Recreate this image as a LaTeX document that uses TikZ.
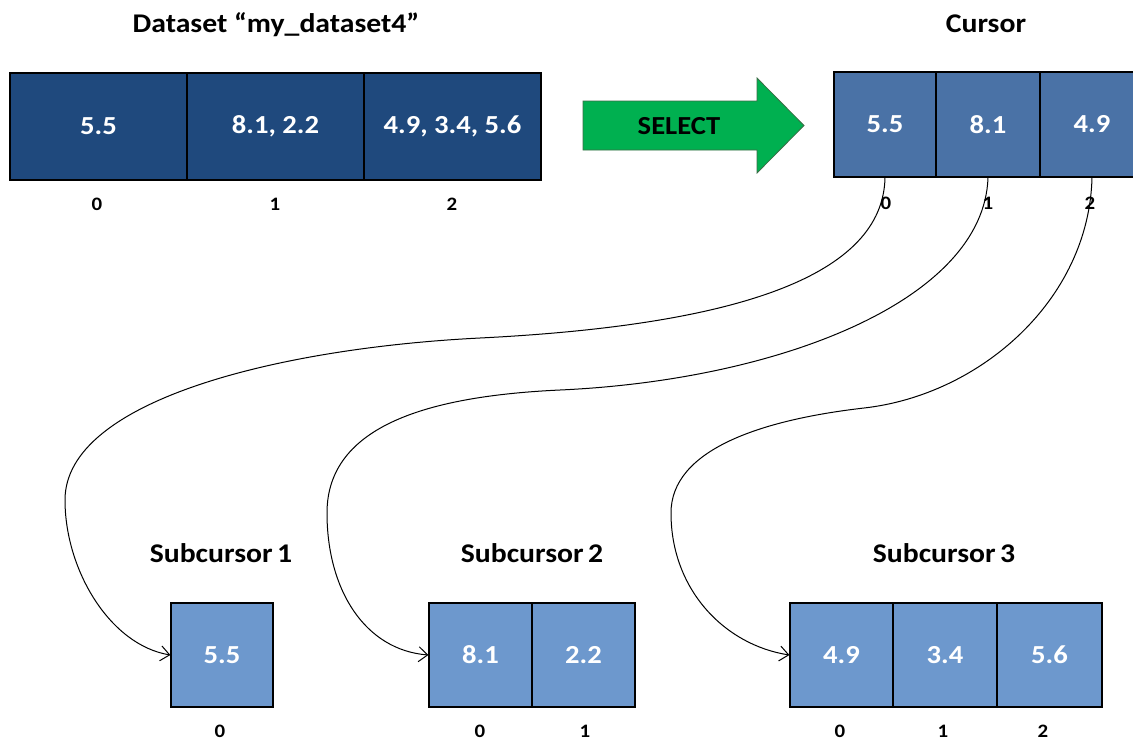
\documentclass[tikz,border=0pt]{standalone}
\usepackage{fontspec}
\setmainfont{Carlito}[FakeStretch=1.1]
\usetikzlibrary{arrows.meta}
\definecolor{dsblue}{HTML}{1F497D}
\definecolor{curblue}{HTML}{4A72A6}
\definecolor{subblue}{HTML}{6D98CD}
\definecolor{selgreen}{HTML}{00B050}
\definecolor{selborder}{HTML}{3C6E47}
\begin{document}
\begin{tikzpicture}[x=1pt,y=-1pt,
  cellbox/.style={draw=black, line width=1.2pt, inner sep=0pt, text=white,
    font=\fontsize{26}{30}\selectfont\bfseries},
  dscell/.style={cellbox, fill=dsblue, minimum width=177pt, minimum height=107pt},
  curcell/.style={cellbox, fill=curblue, minimum width=104pt, minimum height=105pt},
  subcell/.style={cellbox, fill=subblue, minimum width=103pt, minimum height=104pt},
  titletext/.style={anchor=base, inner sep=0pt, font=\fontsize{27}{31}\selectfont\bfseries},
  idxtext/.style={anchor=base, inner sep=0pt, font=\fontsize{19}{22}\selectfont\bfseries},
  conn/.style={draw=black, line width=1pt, -{Straight Barb[length=9pt,width=15pt,line width=1pt]}}
]
\useasboundingbox (0,0) rectangle (1133,742);
\clip (0,0) rectangle (1133,742);
\fill[white] (0,0) rectangle (1133,742);

% Dataset
\node[titletext] (dtitle) at (276,32) {Dataset “my\_dataset4”};
\node[dscell] (d0) at (98.5,126.5) {5.5};
\node[dscell] (d1) at (275.5,126.5) {8.1, 2.2};
\node[dscell] (d2) at (452.5,126.5) {4.9, 3.4, 5.6};
\node[idxtext] (di0) at (97,210) {0};
\node[idxtext] (di1) at (275,210) {1};
\node[idxtext] (di2) at (452,210) {2};

% SELECT arrow
\filldraw[fill=selgreen, draw=selborder, line width=0.8pt]
  (583,101) -- (757,101) -- (757,78) -- (804,125.5) -- (757,173) -- (757,150) -- (583,150) -- cycle;
\node[anchor=base, inner sep=0pt, font=\fontsize{26}{30}\selectfont\bfseries] (sel) at (679,134) {SELECT};

% Cursor
\node[titletext] (ctitle) at (986,32) {Cursor};
\node[curcell, minimum width=102pt] (c0) at (885,124.5) {5.5};
\node[curcell] (c1) at (988,124.5) {8.1};
\node[curcell] (c2) at (1092,124.5) {4.9};

% Subcursors
\node[titletext] (s1title) at (221,562) {Subcursor\,1};
\node[subcell, minimum width=102pt] (s1) at (222,655) {5.5};
\node[idxtext] (s1i0) at (220,737) {0};

\node[titletext] (s2title) at (532,562) {Subcursor\,2};
\node[subcell] (s2a) at (480.5,655) {8.1};
\node[subcell] (s2b) at (583.5,655) {2.2};
\node[idxtext] (s2i0) at (480,737) {0};
\node[idxtext] (s2i1) at (585,737) {1};

\node[titletext] (s3title) at (944,562) {Subcursor\,3};
\node[subcell] (s3a) at (841.5,655) {4.9};
\node[subcell, minimum width=104pt] (s3b) at (945,655) {3.4};
\node[subcell, minimum width=105pt] (s3c) at (1049.5,655) {5.6};
\node[idxtext] (s3i0) at (840,737) {0};
\node[idxtext] (s3i1) at (943,737) {1};
\node[idxtext] (s3i2) at (1043,737) {2};

% Connectors
\draw[conn] (c0.south) .. controls (883,275) and (740,325) .. (480,338)
  .. controls (280,348) and (65,400) .. (65,500)
  .. controls (65,570) and (110,645) .. (s1.west);
\draw[conn] (c1.south) .. controls (984,300) and (780,380) .. (560,390)
  .. controls (430,396) and (327,425) .. (327,513)
  .. controls (327,590) and (365,650) .. (s2a.west);
\draw[conn] (c2.south) .. controls (1089,300) and (980,395) .. (864,408)
  .. controls (760,420) and (671,450) .. (671,513)
  .. controls (671,590) and (725,645) .. (s3a.west);

% Cursor index labels (drawn over connectors)
\node[idxtext] (ci0) at (886,209) {0};
\node[idxtext] (ci1) at (988,209) {1};
\node[idxtext] (ci2) at (1090,209) {2};
\end{tikzpicture}
\end{document}
